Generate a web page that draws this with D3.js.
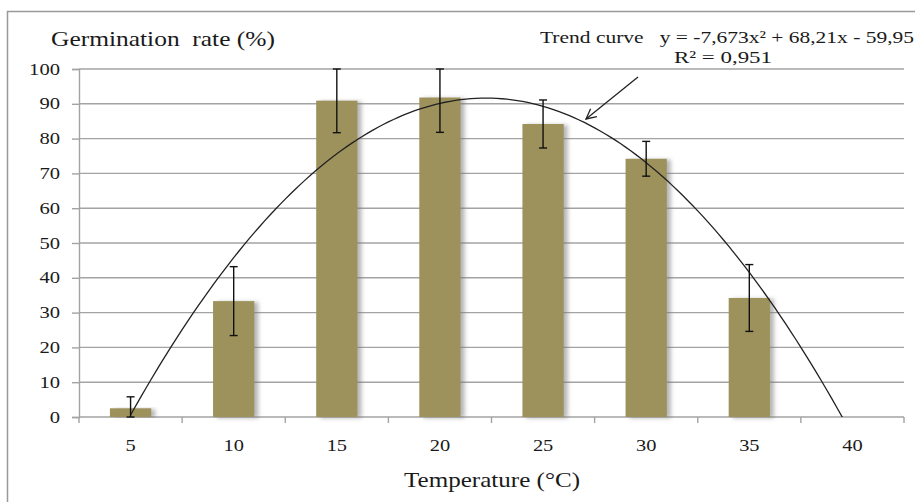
<!DOCTYPE html>
<html>
<head>
<meta charset="utf-8">
<script src="https://cdn.jsdelivr.net/npm/d3@7"></script>
<style>
  body { margin: 0; background: #fff; }
  text { font-family: "Liberation Serif", "Times New Roman", serif; fill: #1a1a1a; white-space: pre; }
</style>
</head>
<body>
<script>
const temps = [5, 10, 15, 20, 25, 30, 35, 40];
const rates = [2.5, 33.3, 90.9, 91.8, 84.2, 74.2, 34.2, 0];
const errors = [3.3, 9.9, 9.2, 10, 6.9, 5, 9.6, 0];
const yTicks = [0, 10, 20, 30, 40, 50, 60, 70, 80, 90, 100];
// trend curve coefficients: a*x^2 + b*x + c, x = category index (1..8)
const trendCoef = [-7.673, 68.21, -59.95];

const width = 915;
const height = 502;
const plotLeft = 79;
const plotRight = 904;
const plotTop = 69;
const plotBottom = 417;
const gridColor = "#a3a3a3";
const barColor = "#9d925b";

const svg = d3.select("body")
  .append("svg")
  .attr("width", width)
  .attr("height", height);

const defs = svg.append("defs");
const shadow = defs.append("filter")
  .attr("id", "shadow")
  .attr("x", "-20%").attr("y", "-5%")
  .attr("width", "150%").attr("height", "115%");
shadow.append("feDropShadow")
  .attr("dx", 4).attr("dy", 1)
  .attr("stdDeviation", 2)
  .attr("flood-color", "#777")
  .attr("flood-opacity", 0.55);

defs.append("clipPath")
  .attr("id", "plot")
  .append("rect")
  .attr("x", plotLeft).attr("y", plotTop)
  .attr("width", plotRight - plotLeft).attr("height", plotBottom - plotTop);

defs.append("marker")
  .attr("id", "arrow")
  .attr("viewBox", "0 0 12 12")
  .attr("refX", 11).attr("refY", 6)
  .attr("markerWidth", 12).attr("markerHeight", 12)
  .attr("markerUnits", "userSpaceOnUse")
  .attr("orient", "auto")
  .append("path")
  .attr("d", "M1,1 L11,6 L1,11")
  .attr("fill", "none")
  .attr("stroke", "#222")
  .attr("stroke-width", 1.3);

// outer frame
svg.append("rect")
  .attr("x", 7.5).attr("y", 11.5)
  .attr("width", 920).attr("height", 500)
  .attr("fill", "none")
  .attr("stroke", "#999")
  .attr("stroke-width", 1.5);

const x = d3.scaleBand().domain(temps).range([plotLeft, plotRight]).padding(0);
const y = d3.scaleLinear().domain([0, 100]).range([plotBottom, plotTop]);
const step = x.bandwidth();
const barW = step * 0.4;
const cx = d => x(d) + step / 2;

// gridlines
svg.append("g")
  .selectAll("line")
  .data(yTicks.filter(d => d > 0))
  .join("line")
  .attr("x1", plotLeft).attr("x2", plotRight)
  .attr("y1", d => y(d)).attr("y2", d => y(d))
  .attr("stroke", gridColor)
  .attr("stroke-width", 1.4);

// y axis
const yAxis = svg.append("g")
  .attr("transform", `translate(${plotLeft},0)`)
  .call(d3.axisLeft(y).tickValues(yTicks).tickSize(7).tickPadding(12));
yAxis.select(".domain").attr("stroke", gridColor).attr("stroke-width", 1.4);
yAxis.selectAll(".tick line").attr("stroke", gridColor).attr("stroke-width", 1.4);
yAxis.selectAll(".tick text")
  .attr("font-size", 16)
  .attr("fill", "#1a1a1a")
  .attr("textLength", d => String(d).length * 10.3)
  .attr("lengthAdjust", "spacingAndGlyphs");

// x axis
const xAxis = svg.append("g")
  .attr("transform", `translate(0,${plotBottom})`)
  .call(d3.axisBottom(x).tickSize(0).tickPadding(22));
xAxis.select(".domain").remove();
xAxis.selectAll(".tick text")
  .attr("font-size", 17)
  .attr("fill", "#1a1a1a")
  .attr("textLength", d => String(d).length * 10.2)
  .attr("lengthAdjust", "spacingAndGlyphs");
svg.append("line")
  .attr("x1", plotLeft).attr("x2", plotRight)
  .attr("y1", plotBottom).attr("y2", plotBottom)
  .attr("stroke", gridColor).attr("stroke-width", 1.4);
svg.append("g")
  .selectAll("line")
  .data(temps.map(d => x(d)).concat([plotRight]))
  .join("line")
  .attr("x1", d => d).attr("x2", d => d)
  .attr("y1", plotBottom).attr("y2", plotBottom + 6)
  .attr("stroke", gridColor).attr("stroke-width", 1.4);

// bars
svg.append("g")
  .selectAll("rect")
  .data(temps.map((t, i) => ({ t, v: rates[i], e: errors[i] })).filter(d => d.v > 0))
  .join("rect")
  .attr("x", d => cx(d.t) - barW / 2)
  .attr("y", d => y(d.v))
  .attr("width", barW)
  .attr("height", d => plotBottom - y(d.v))
  .attr("fill", barColor)
  .attr("filter", "url(#shadow)");

// trend curve
const xi = d3.scaleLinear().domain([1, temps.length]).range([cx(temps[0]), cx(temps[temps.length - 1])]);
const trendPts = d3.range(1, temps.length + 0.001, 0.05)
  .map(k => [k, trendCoef[0] * k * k + trendCoef[1] * k + trendCoef[2]]);
svg.append("path")
  .datum(trendPts)
  .attr("clip-path", "url(#plot)")
  .attr("fill", "none")
  .attr("stroke", "#222")
  .attr("stroke-width", 1.3)
  .attr("d", d3.line().x(d => xi(d[0])).y(d => y(d[1])));

// error bars
const err = svg.append("g")
  .attr("stroke", "#111")
  .attr("stroke-width", 1.4)
  .selectAll("g")
  .data(temps.map((t, i) => ({ t, v: rates[i], e: errors[i] })).filter(d => d.e > 0))
  .join("g");
const hi = d => y(Math.min(100, d.v + d.e));
const lo = d => y(Math.max(0, d.v - d.e));
err.append("line")
  .attr("x1", d => cx(d.t)).attr("x2", d => cx(d.t))
  .attr("y1", hi).attr("y2", lo);
err.append("line")
  .attr("x1", d => cx(d.t) - 4).attr("x2", d => cx(d.t) + 4)
  .attr("y1", hi).attr("y2", hi);
err.append("line")
  .attr("x1", d => cx(d.t) - 4).attr("x2", d => cx(d.t) + 4)
  .attr("y1", lo).attr("y2", lo);

// titles
svg.append("text")
  .attr("x", 51).attr("y", 46)
  .attr("font-size", 21)
  .attr("textLength", 224)
  .attr("lengthAdjust", "spacingAndGlyphs")
  .text("Germination  rate (%)");

svg.append("text")
  .attr("x", 404).attr("y", 487)
  .attr("font-size", 21)
  .attr("textLength", 176)
  .attr("lengthAdjust", "spacingAndGlyphs")
  .text("Temperature (°C)");

// annotation
svg.append("text")
  .attr("x", 540).attr("y", 43)
  .attr("font-size", 17)
  .attr("textLength", 374)
  .attr("lengthAdjust", "spacingAndGlyphs")
  .text("Trend curve   y = -7,673x² + 68,21x - 59,95");
svg.append("text")
  .attr("x", 674).attr("y", 63)
  .attr("font-size", 17)
  .attr("textLength", 98)
  .attr("lengthAdjust", "spacingAndGlyphs")
  .text("R² = 0,951");
svg.append("line")
  .attr("x1", 638).attr("y1", 77)
  .attr("x2", 586).attr("y2", 119)
  .attr("stroke", "#222")
  .attr("stroke-width", 1.3)
  .attr("marker-end", "url(#arrow)");
</script>
</body>
</html>
